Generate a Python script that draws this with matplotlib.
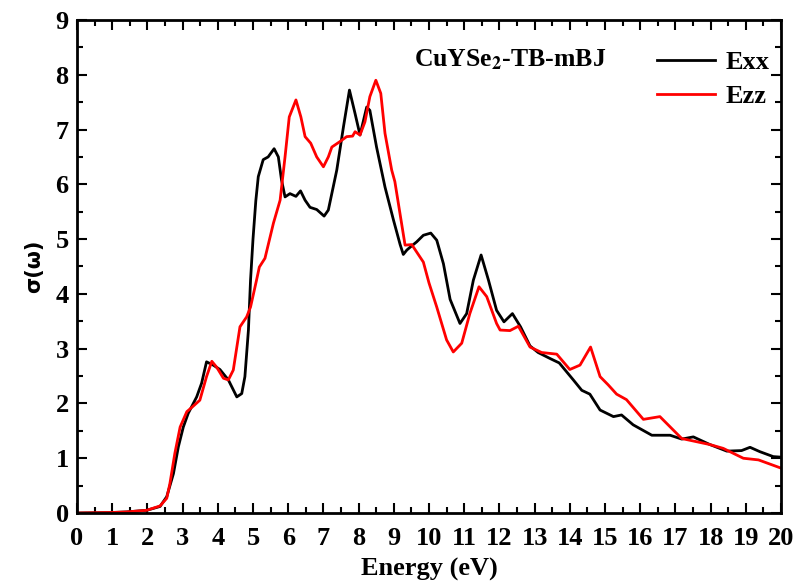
import numpy as np
import matplotlib.pyplot as plt
from matplotlib.ticker import MultipleLocator

# Optical conductivity of CuYSe2 (TB-mBJ)
energy_xx = [0.0, 0.5, 1.0, 1.4, 1.98, 2.36, 2.55, 2.74, 2.88, 3.02, 3.16, 3.4, 3.54,
             3.68, 3.87, 4.06, 4.3, 4.54, 4.68, 4.77, 4.87, 4.93, 5.0, 5.08, 5.15,
             5.29, 5.43, 5.6, 5.72, 5.81, 5.91, 6.05, 6.22, 6.35, 6.48, 6.62, 6.81,
             7.02, 7.14, 7.38, 7.57, 7.74, 7.9, 8.04, 8.23, 8.32, 8.51, 8.75, 8.99,
             9.18, 9.27, 9.37, 9.46, 9.65, 9.84, 10.05, 10.22, 10.41, 10.6, 10.88,
             11.07, 11.26, 11.48, 11.69, 11.92, 12.13, 12.37, 12.6, 12.87, 13.1,
             13.44, 13.7, 14.1, 14.34, 14.57, 14.86, 15.24, 15.47, 15.8, 16.33,
             16.85, 17.18, 17.51, 17.98, 18.46, 18.88, 19.12, 19.4, 19.78, 20.0]
sigma_xx = [0.0, 0.005, 0.01, 0.02, 0.05, 0.12, 0.3, 0.72, 1.21, 1.57, 1.82, 2.12, 2.37,
            2.76, 2.7, 2.62, 2.43, 2.12, 2.18, 2.49, 3.34, 4.25, 5.0, 5.7, 6.14,
            6.45, 6.5, 6.65, 6.5, 6.08, 5.77, 5.83, 5.78, 5.88, 5.71, 5.58, 5.54,
            5.42, 5.53, 6.26, 7.05, 7.72, 7.29, 6.9, 7.41, 7.35, 6.68, 5.95, 5.35,
            4.9, 4.72, 4.8, 4.85, 4.95, 5.07, 5.11, 4.98, 4.55, 3.9, 3.46,
            3.64, 4.25, 4.71, 4.25, 3.7, 3.49, 3.64, 3.4, 3.05, 2.93,
            2.82, 2.74, 2.43, 2.24, 2.17, 1.88, 1.76, 1.79, 1.61, 1.42,
            1.42, 1.35, 1.39, 1.25, 1.13, 1.14, 1.2, 1.12, 1.03, 1.02]

energy_zz = [0.0, 0.5, 1.0, 1.4, 1.98, 2.36, 2.55, 2.64, 2.78, 2.93, 3.12, 3.3, 3.49,
             3.68, 3.83, 3.97, 4.16, 4.3, 4.44, 4.63, 4.82, 4.93, 5.1, 5.18, 5.34,
             5.58, 5.77, 5.91, 6.03, 6.22, 6.36, 6.48, 6.64, 6.81, 7.0, 7.14, 7.24,
             7.47, 7.66, 7.83, 7.9, 8.04, 8.18, 8.32, 8.49, 8.63, 8.75, 8.94, 9.03,
             9.18, 9.32, 9.51, 9.84, 10.0, 10.22, 10.5, 10.69, 10.93, 11.16, 11.42,
             11.64, 11.92, 12.02, 12.3, 12.54, 12.87, 13.2, 13.63, 14.0, 14.29,
             14.59, 14.86, 15.09, 15.33, 15.61, 16.09, 16.56, 17.18, 17.98, 18.36,
             18.93, 19.36, 20.0]
sigma_zz = [0.0, 0.005, 0.01, 0.02, 0.05, 0.13, 0.27, 0.54, 1.09, 1.57, 1.85, 1.95, 2.06,
            2.49, 2.77, 2.66, 2.46, 2.43, 2.61, 3.4, 3.58, 3.76, 4.25, 4.49, 4.65,
            5.29, 5.71, 6.5, 7.23, 7.54, 7.23, 6.87, 6.75, 6.5, 6.32, 6.5, 6.68,
            6.78, 6.87, 6.88, 6.96, 6.9, 7.14, 7.6, 7.9, 7.66, 6.93, 6.26, 6.05,
            5.45, 4.89, 4.9, 4.58, 4.2, 3.76, 3.16, 2.94, 3.1, 3.64, 4.13,
            3.95, 3.46, 3.34, 3.33, 3.41, 3.03, 2.93, 2.9, 2.62, 2.7,
            3.03, 2.49, 2.34, 2.17, 2.07, 1.71, 1.76, 1.36, 1.25, 1.18,
            1.0, 0.97, 0.82]

plt.rcParams['font.family'] = ['Liberation Serif', 'DejaVu Serif']
plt.rcParams['font.weight'] = 'bold'
plt.rcParams['mathtext.fontset'] = 'stix'

fig = plt.figure(figsize=(8, 5.87), dpi=100)
ax = fig.add_axes([0.09625, 0.126, 0.88, 0.84])

ax.plot(energy_xx, sigma_xx, color='black', linewidth=2, label='Exx')
ax.plot(energy_zz, sigma_zz, color='red', linewidth=2, label='Ezz')

ax.set_xlim(0, 20)
ax.set_ylim(0, 9)
ax.xaxis.set_major_locator(MultipleLocator(1))
ax.xaxis.set_minor_locator(MultipleLocator(0.5))
ax.yaxis.set_major_locator(MultipleLocator(1))
ax.yaxis.set_minor_locator(MultipleLocator(0.5))
ax.tick_params(which='both', direction='in', top=True, right=True, width=1.5)
ax.tick_params(which='major', length=7, labelsize=19)
ax.tick_params(which='minor', length=4)
ax.tick_params(axis='x', which='major', pad=10)
ax.tick_params(axis='y', which='major', pad=6)
for spine in ax.spines.values():
    spine.set_linewidth(2)

ax.set_xlabel('Energy (eV)', fontsize=19, fontweight='bold', labelpad=6)
ax.set_ylabel('σ(ω)', fontsize=15, fontweight='bold', family='DejaVu Sans', labelpad=8)

ax.text(0.478, 0.92, r'CuYSe$_\mathbf{2}$-TB-mBJ', transform=ax.transAxes,
        fontsize=18.5, fontweight='bold', va='center', ha='left')
ax.legend(loc='upper right', frameon=False, fontsize=19, handlelength=2.2,
          handletextpad=0.4, borderaxespad=0.3, labelspacing=0.4,
          bbox_to_anchor=(1.01, 0.975))

fig.savefig('out.png', dpi=100)
